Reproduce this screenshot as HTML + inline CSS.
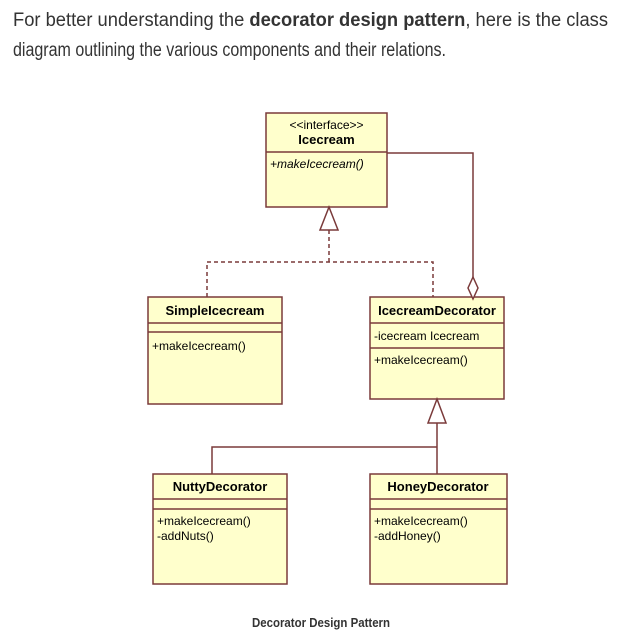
<!DOCTYPE html>
<html><head><meta charset="utf-8"><style>
html,body{margin:0;padding:0;background:#fff;width:622px;height:640px;overflow:hidden}
</style></head><body>
<svg width="622" height="640" xmlns="http://www.w3.org/2000/svg" font-family="Liberation Sans, sans-serif">
<text x="13" y="26" font-size="19" fill="#333" textLength="595" lengthAdjust="spacingAndGlyphs">For better understanding the <tspan font-weight="bold">decorator design pattern</tspan>, here is the class</text>
<text x="13" y="56" font-size="19" fill="#333" textLength="433" lengthAdjust="spacingAndGlyphs">diagram outlining the various components and their relations.</text>

<g stroke="#7a3a3a" stroke-width="1.5" fill="#ffffcc">
<rect x="266" y="113" width="121" height="94"/>
<line x1="266" y1="152" x2="387" y2="152"/>
<rect x="148" y="297" width="134" height="107"/>
<line x1="148" y1="323" x2="282" y2="323"/><line x1="148" y1="332" x2="282" y2="332"/>
<rect x="370" y="297" width="134" height="102"/>
<line x1="370" y1="323" x2="504" y2="323"/><line x1="370" y1="348" x2="504" y2="348"/>
<rect x="153" y="474" width="134" height="110"/>
<line x1="153" y1="499" x2="287" y2="499"/><line x1="153" y1="509" x2="287" y2="509"/>
<rect x="370" y="474" width="137" height="110"/>
<line x1="370" y1="499" x2="507" y2="499"/><line x1="370" y1="509" x2="507" y2="509"/>
</g>
<g stroke="#7a3a3a" stroke-width="1.5" fill="none">
<path d="M329 230V262M207 297V262H433V297" stroke-dasharray="4,3"/>
<path d="M387 153H473V277"/>
<path d="M437 423V474M212 474V447H437"/>
</g>
<g stroke="#7a3a3a" stroke-width="1.5" fill="#fff">
<polygon points="329,207 320,230 338,230"/>
<polygon points="473,277 478,288 473,299 468,288"/>
<polygon points="437,399 428,423 446,423"/>
</g>
<g font-size="12" fill="#000">
<text x="326.5" y="129" text-anchor="middle">&lt;&lt;interface&gt;&gt;</text>
<text x="326.5" y="144" text-anchor="middle" font-weight="bold" font-size="13">Icecream</text>
<text x="270" y="168" font-style="italic">+makeIcecream()</text>
<text x="215" y="315" text-anchor="middle" font-weight="bold" font-size="13">SimpleIcecream</text>
<text x="152" y="350">+makeIcecream()</text>
<text x="437" y="315" text-anchor="middle" font-weight="bold" font-size="13">IcecreamDecorator</text>
<text x="374" y="340">-icecream Icecream</text>
<text x="374" y="364">+makeIcecream()</text>
<text x="220" y="491" text-anchor="middle" font-weight="bold" font-size="13">NuttyDecorator</text>
<text x="157" y="525">+makeIcecream()</text>
<text x="157" y="540">-addNuts()</text>
<text x="438" y="491" text-anchor="middle" font-weight="bold" font-size="13">HoneyDecorator</text>
<text x="374" y="525">+makeIcecream()</text>
<text x="374" y="540">-addHoney()</text>
</g>
<text x="321" y="627" text-anchor="middle" font-size="13" font-weight="bold" fill="#333" textLength="138" lengthAdjust="spacingAndGlyphs">Decorator Design Pattern</text>
</svg>
</body></html>
